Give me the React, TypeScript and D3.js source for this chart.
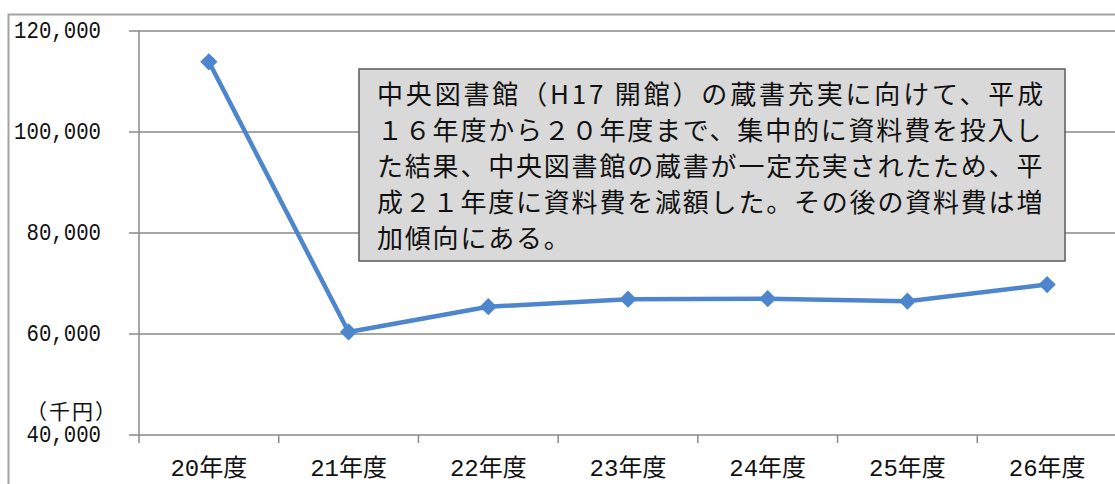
import React from "react"
import * as d3 from "d3"

const years = ["20年度", "21年度", "22年度", "23年度", "24年度", "25年度", "26年度"]
const costs = [113900, 60400, 65400, 66900, 67000, 66500, 69800]
const yTicks = [40000, 60000, 80000, 100000, 120000]
const unitLabel = "（千円）"
const noteLines = [
  "中央図書館（H17 開館）の蔵書充実に向けて、平成",
  "１６年度から２０年度まで、集中的に資料費を投入し",
  "た結果、中央図書館の蔵書が一定充実されたため、平",
  "成２１年度に資料費を減額した。その後の資料費は増",
  "加傾向にある。",
]

const W = 1115
const H = 484
const plot = { left: 139, right: 1117, top: 31, bottom: 435 }
const lineColor = "#4d86cc"
const gridColor = "#888"
const axisFont = "'Liberation Mono', 'Noto Sans CJK JP', monospace"
const jpFont = "'Noto Sans CJK JP', sans-serif"

export default function App() {
  const x = d3
    .scaleBand<string>()
    .domain(years)
    .range([plot.left, plot.right])
  const y = d3
    .scaleLinear()
    .domain([40000, 120000])
    .range([plot.bottom, plot.top])

  const cx = (i: number) => (x(years[i]) as number) + x.bandwidth() / 2

  const line = d3
    .line<number>()
    .x((d, i) => cx(i))
    .y(d => y(d))

  const diamond = d3.symbol().type(d3.symbolDiamond2).size(190)()

  const boundaries = years.map(yr => x(yr) as number)

  return (
    <svg
      width={W}
      height={H}
      style={{ position: "absolute", left: 0, top: 0, background: "#fff" }}
    >
      <rect
        x={8.5}
        y={14.5}
        width={1200}
        height={600}
        fill="none"
        stroke="#a3a3a3"
        strokeWidth={2}
      />

      {/* grid + y ticks */}
      {yTicks.map(t => (
        <line
          key={t}
          x1={plot.left - 10}
          x2={W}
          y1={y(t)}
          y2={y(t)}
          stroke={gridColor}
          strokeWidth={1.5}
        />
      ))}
      <line
        x1={plot.left}
        x2={plot.left}
        y1={plot.top}
        y2={plot.bottom + 8}
        stroke={gridColor}
        strokeWidth={1.5}
      />
      {boundaries.slice(1).map((b, i) => (
        <line
          key={i}
          x1={b}
          x2={b}
          y1={plot.bottom}
          y2={plot.bottom + 8}
          stroke={gridColor}
          strokeWidth={1.5}
        />
      ))}

      {yTicks.map(t => (
        <text
          key={t}
          x={0}
          y={0}
          transform={`translate(101, ${y(t) + 1}) scale(0.9, 1)`}
          textAnchor="end"
          dominantBaseline="central"
          fontFamily={axisFont}
          fontSize={23}
          fill="#111"
        >
          {d3.format(",")(t)}
        </text>
      ))}
      <text
        x={118}
        y={410}
        textAnchor="end"
        dominantBaseline="central"
        fontFamily={jpFont}
        fontSize={21}
        letterSpacing={2}
        fill="#111"
      >
        {unitLabel}
      </text>

      {years.map((yr, i) => (
        <text
          key={yr}
          x={cx(i)}
          y={469}
          textAnchor="middle"
          dominantBaseline="central"
          fontFamily={axisFont}
          fontSize={24}
          fill="#111"
        >
          {yr}
        </text>
      ))}

      <path
        d={line(costs) || ""}
        fill="none"
        stroke={lineColor}
        strokeWidth={4.5}
        strokeLinejoin="round"
      />
      {costs.map((c, i) => (
        <path
          key={i}
          d={diamond || ""}
          transform={`translate(${cx(i)}, ${y(c)})`}
          fill={lineColor}
        />
      ))}

      <rect
        x={359}
        y={69}
        width={706}
        height={192}
        fill="#d9d9d9"
        stroke="#5a5a5a"
        strokeWidth={1.5}
      />
      {noteLines.map((l, i) => (
        <text
          key={i}
          x={377}
          y={92 + i * 36}
          dominantBaseline="central"
          fontFamily={jpFont}
          fontSize={26}
          letterSpacing={1.8}
          textLength={i === 0 ? 668 : undefined}
          lengthAdjust="spacing"
          fill="#111"
        >
          {l}
        </text>
      ))}
    </svg>
  )
}
